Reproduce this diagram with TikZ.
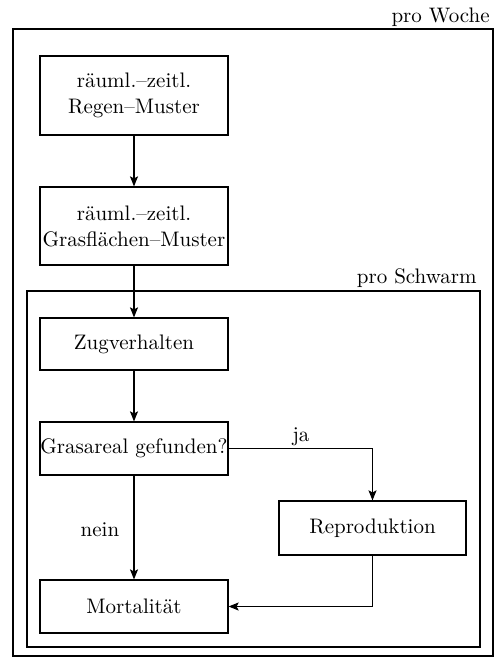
\documentclass[tikz,border=0pt]{standalone}
\usetikzlibrary{arrows.meta}
\begin{document}
\begin{tikzpicture}[x=0.5pt,y=-0.5pt,
  box/.style={draw,line width=0.6pt,inner sep=0pt,align=center,font=\fontsize{10.5}{13}\selectfont},
  lbl/.style={inner sep=0pt,font=\fontsize{10.5}{13}\selectfont},
  frame/.style={draw,line width=0.6pt},
  arr/.style={line width=0.6pt,-{Stealth[length=5pt,width=4pt,inset=1pt]}}]
\useasboundingbox (0,0) rectangle (502,658);
% frames
\draw[frame] (13,29) rectangle (493,656);
\node[lbl,anchor=base east] (woche) at (490,23) {pro Woche};
\draw[frame] (27,291) rectangle (480,647);
\node[lbl,anchor=base east] (schwarm) at (477,283) {pro Schwarm};
% boxes
\node[box,minimum width=94pt,minimum height=39.5pt] (regen) at (134,95.5) {räuml.--zeitl.\\Regen--Muster};
\node[box,minimum width=94pt,minimum height=39pt] (gras) at (134,226) {räuml.--zeitl.\\Grasflächen--Muster};
\node[box,minimum width=94pt,minimum height=26pt] (zug) at (134,344) {Zugverhalten};
\node[box,minimum width=94pt,minimum height=26.5pt] (areal) at (134,448.5) {Grasareal gefunden?};
\node[box,minimum width=93.5pt,minimum height=27pt] (repro) at (372.5,528) {Reproduktion};
\node[box,minimum width=94pt,minimum height=26.5pt] (mort) at (134,606.5) {Mortalität};
% arrows
\draw[arr] (regen) -- (gras);
\draw[arr] (gras) -- (zug);
\draw[arr] (zug) -- (areal);
\draw[arr] (areal) -- (mort);
\draw[arr] (areal.east) -| (repro.north);
\draw[arr] (repro.south) |- (mort.east);
\node[lbl] (ja) at (301,437) {ja};
\node[lbl] (nein) at (100,530) {nein};
\end{tikzpicture}
\end{document}
